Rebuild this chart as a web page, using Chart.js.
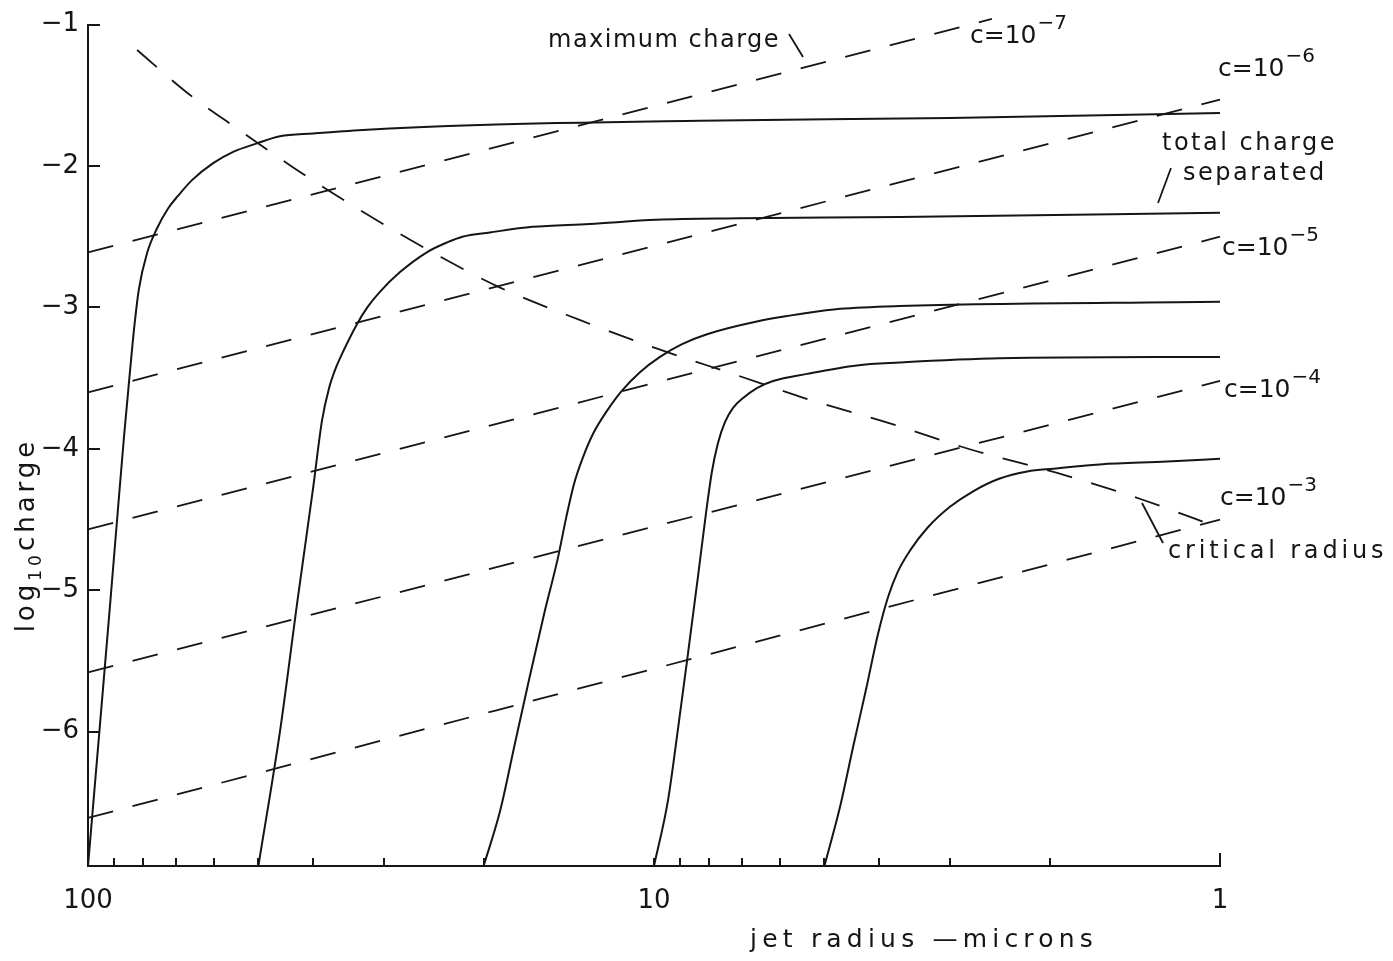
<!DOCTYPE html>
<html>
<head>
<meta charset="utf-8">
<script src="https://cdn.jsdelivr.net/npm/chart.js@4.4.1/dist/chart.umd.min.js"></script>
<style>
  html, body { margin: 0; padding: 0; background: #fff; }
  #wrap { width: 1393px; height: 961px; position: relative; }
</style>
</head>
<body>
<div id="wrap"><canvas id="plot"></canvas></div>
<script>
// Axis ticks: jet radius in microns (log, decreasing to the right), log10 of charge
const xTicks = [100, 90, 80, 70, 60, 50, 40, 30, 20, 10, 9, 8, 7, 6, 5, 4, 3, 2, 1];
const xLabelled = [100, 10, 1];
const yTicks = [-1, -2, -3, -4, -5, -6];
const yMin = -6.95, yMax = -1;

// Total charge separated, one curve per initial jet radius (100, 50, 20, 10, 5 microns)
const sep100R = [100, 95.2, 91.4, 88.5, 86.4, 84.6, 82.9, 81.3, 78.7, 75.5, 72.2, 69.3, 65.5, 60.1, 55.4, 50.3, 45.8, 40.0, 32.7, 20.3, 8.3, 3.0, 1.0];
const sep100Q = [-6.95, -5.94, -5.10, -4.42, -3.92, -3.52, -3.15, -2.87, -2.62, -2.44, -2.30, -2.21, -2.10, -1.98, -1.90, -1.84, -1.79, -1.77, -1.745, -1.71, -1.68, -1.66, -1.625];

const sep50R = [50, 45.8, 42.6, 40.0, 38.6, 37.5, 36.5, 35.4, 33.5, 32.1, 30.5, 28.1, 25.2, 23.2, 21.8, 19.5, 16.4, 13.0, 9.9, 7.05, 3.68, 1.0];
const sep50Q = [-6.95, -6.00, -5.06, -4.27, -3.80, -3.57, -3.43, -3.31, -3.12, -3.00, -2.89, -2.75, -2.61, -2.54, -2.50, -2.47, -2.43, -2.41, -2.38, -2.37, -2.36, -2.33];

const sep20R = [20, 18.7, 17.6, 16.6, 15.6, 14.8, 14.3, 13.85, 13.35, 12.8, 12.1, 11.4, 10.6, 9.76, 8.92, 8.06, 6.58, 5.37, 4.69, 3.68, 1.0];
const sep20Q = [-6.95, -6.56, -6.08, -5.62, -5.15, -4.78, -4.49, -4.25, -4.06, -3.89, -3.73, -3.59, -3.46, -3.35, -3.26, -3.19, -3.10, -3.04, -3.01, -2.99, -2.96];

const sep10R = [10, 9.45, 9.07, 8.71, 8.36, 8.09, 7.90, 7.71, 7.49, 7.25, 6.96, 6.58, 6.16, 5.37, 4.38, 3.68, 2.45, 1.0];
const sep10Q = [-6.95, -6.49, -5.98, -5.45, -4.90, -4.45, -4.16, -3.96, -3.81, -3.71, -3.64, -3.57, -3.52, -3.47, -3.41, -3.39, -3.36, -3.35];

const sep5R = [5, 4.69, 4.45, 4.22, 4.02, 3.86, 3.71, 3.53, 3.29, 3.00, 2.73, 2.45, 2.19, 1.97, 1.63, 1.24, 1.0];
const sep5Q = [-6.95, -6.53, -6.11, -5.70, -5.31, -5.05, -4.87, -4.72, -4.56, -4.41, -4.30, -4.21, -4.16, -4.14, -4.11, -4.09, -4.07];

// Lines of constant c (straight on these axes): end radii and log10 charge
const c7R = [100, 2.53], c7Q = [-2.61, -0.96];
const c6R = [100, 1], c6Q = [-3.60, -1.53];
const c5R = [100, 1], c5Q = [-4.57, -2.50];
const c4R = [100, 1], c4Q = [-5.58, -3.52];
const c3R = [100, 1], c3Q = [-6.61, -4.50];

// Critical radius
const critR = [81.9, 66.9, 54.3, 43.4, 34.4, 28.1, 23.9, 18.7, 13.5, 9.9, 7.13, 5.24, 3.83, 2.73, 1.94, 1.37, 1.0];
const critQ = [-1.18, -1.48, -1.74, -2.01, -2.27, -2.48, -2.64, -2.86, -3.09, -3.29, -3.48, -3.66, -3.82, -4.01, -4.17, -4.36, -4.56];

const INK = '#151515';
const FONT = "'DejaVu Sans', sans-serif";
const DASH = [26, 20];

function pts(r, q) { return r.map((v, i) => ({ x: v, y: q[i] })); }
function solid(r, q) {
  return { data: pts(r, q), showLine: true, borderColor: INK, borderWidth: 2,
           pointRadius: 0, cubicInterpolationMode: 'monotone', clip: false, fill: false };
}
function dashed(r, q) {
  return { data: pts(r, q), showLine: true, borderColor: INK, borderWidth: 1.8,
           borderDash: DASH, pointRadius: 0, cubicInterpolationMode: 'monotone', clip: false, fill: false };
}

// Inward tick marks on both axes
const inwardTicks = {
  id: 'inwardTicks',
  afterDraw(chart) {
    const { ctx, scales: { x, y }, chartArea } = chart;
    ctx.save();
    ctx.strokeStyle = INK;
    ctx.lineWidth = 2;
    ctx.beginPath();
    xTicks.forEach(v => {
      const px = Math.round(x.getPixelForValue(v));
      const len = v === 1 ? 13 : 8;
      ctx.moveTo(px, chartArea.bottom);
      ctx.lineTo(px, chartArea.bottom - len);
    });
    yTicks.forEach(v => {
      const py = Math.round(y.getPixelForValue(v));
      ctx.moveTo(chartArea.left, py);
      ctx.lineTo(chartArea.left + 12, py);
    });
    ctx.stroke();
    ctx.restore();
  }
};

// Hand-lettered annotations: text with optional superscript, leader strokes, axis titles
const notes = {
  id: 'notes',
  afterDraw(chart) {
    const ctx = chart.ctx;
    ctx.save();
    ctx.fillStyle = INK;
    ctx.strokeStyle = INK;
    ctx.textBaseline = 'alphabetic';
    ctx.textAlign = 'left';

    function text(str, x, y, size, spacing) {
      ctx.font = `${size}px ${FONT}`;
      ctx.letterSpacing = (spacing || 0) + 'px';
      ctx.fillText(str, x, y);
      return ctx.measureText(str).width;
    }
    function cLabel(exp, x, y) {
      const w = text('c=10', x, y, 25, 0);
      text('\u2212' + exp, x + w + 1, y - 14, 20, 0);
    }
    function leader(x1, y1, x2, y2) {
      ctx.lineWidth = 1.8;
      ctx.beginPath();
      ctx.moveTo(x1, y1);
      ctx.lineTo(x2, y2);
      ctx.stroke();
    }

    text('maximum charge', 548, 47, 24, 1.5);
    leader(789, 34, 803, 57);

    cLabel('7', 970, 43);
    cLabel('6', 1218, 76);
    cLabel('5', 1222, 255);
    cLabel('4', 1224, 397);
    cLabel('3', 1220, 505);

    text('total charge', 1162, 150, 24, 2.5);
    text('separated', 1183, 180, 24, 2.5);
    leader(1158, 203, 1171, 168);

    text('critical radius', 1168, 558, 24, 3.8);
    leader(1142, 503, 1163, 543);

    // x-axis title
    text('jet radius \u2014microns', 750, 947, 25, 5.2);

    // y-axis title, read bottom to top
    ctx.translate(34, 535);
    ctx.rotate(-Math.PI / 2);
    ctx.letterSpacing = '4px';
    ctx.font = `26px ${FONT}`;
    const wLog = ctx.measureText('log').width;
    ctx.font = `17px ${FONT}`;
    const wSub = ctx.measureText('10').width;
    ctx.font = `26px ${FONT}`;
    const wCh = ctx.measureText('charge').width;
    const x0 = -(wLog + wSub + wCh) / 2;
    ctx.fillText('log', x0, 0);
    ctx.font = `17px ${FONT}`;
    ctx.fillText('10', x0 + wLog, 7);
    ctx.font = `26px ${FONT}`;
    ctx.fillText('charge', x0 + wLog + wSub, 0);

    ctx.restore();
  }
};

new Chart(document.getElementById('plot'), {
  type: 'scatter',
  data: {
    datasets: [
      solid(sep100R, sep100Q),
      solid(sep50R, sep50Q),
      solid(sep20R, sep20Q),
      solid(sep10R, sep10Q),
      solid(sep5R, sep5Q),
      dashed(c7R, c7Q),
      dashed(c6R, c6Q),
      dashed(c5R, c5Q),
      dashed(c4R, c4Q),
      dashed(c3R, c3Q),
      dashed(critR, critQ)
    ]
  },
  options: {
    responsive: true,
    maintainAspectRatio: false,
    devicePixelRatio: 1,
    animation: false,
    events: [],
    layout: { padding: { top: 19, right: 173, bottom: 0, left: 0 } },
    plugins: { legend: { display: false }, tooltip: { enabled: false }, title: { display: false } },
    scales: {
      x: {
        type: 'logarithmic',
        position: 'bottom',
        min: 1,
        max: 100,
        reverse: true,
        grid: { display: false, drawTicks: false },
        border: { display: true, color: INK, width: 2 },
        ticks: {
          autoSkip: false,
          maxRotation: 0,
          padding: 20,
          color: INK,
          font: { family: FONT, size: 26 },
          callback: v => xLabelled.includes(v) ? String(v) : ''
        },
        afterBuildTicks: s => { s.ticks = xTicks.map(v => ({ value: v })); },
        afterFit: s => { s.height = 961 - 866; }
      },
      y: {
        type: 'linear',
        position: 'left',
        min: yMin,
        max: yMax,
        grid: { display: false, drawTicks: false },
        border: { display: true, color: INK, width: 2 },
        ticks: {
          padding: 9,
          color: INK,
          font: { family: FONT, size: 26 },
          callback: v => '\u2212' + Math.abs(v)
        },
        afterBuildTicks: s => { s.ticks = yTicks.map(v => ({ value: v })); },
        afterFit: s => { s.width = 88; }
      }
    }
  },
  plugins: [inwardTicks, notes]
});
</script>
</body>
</html>
